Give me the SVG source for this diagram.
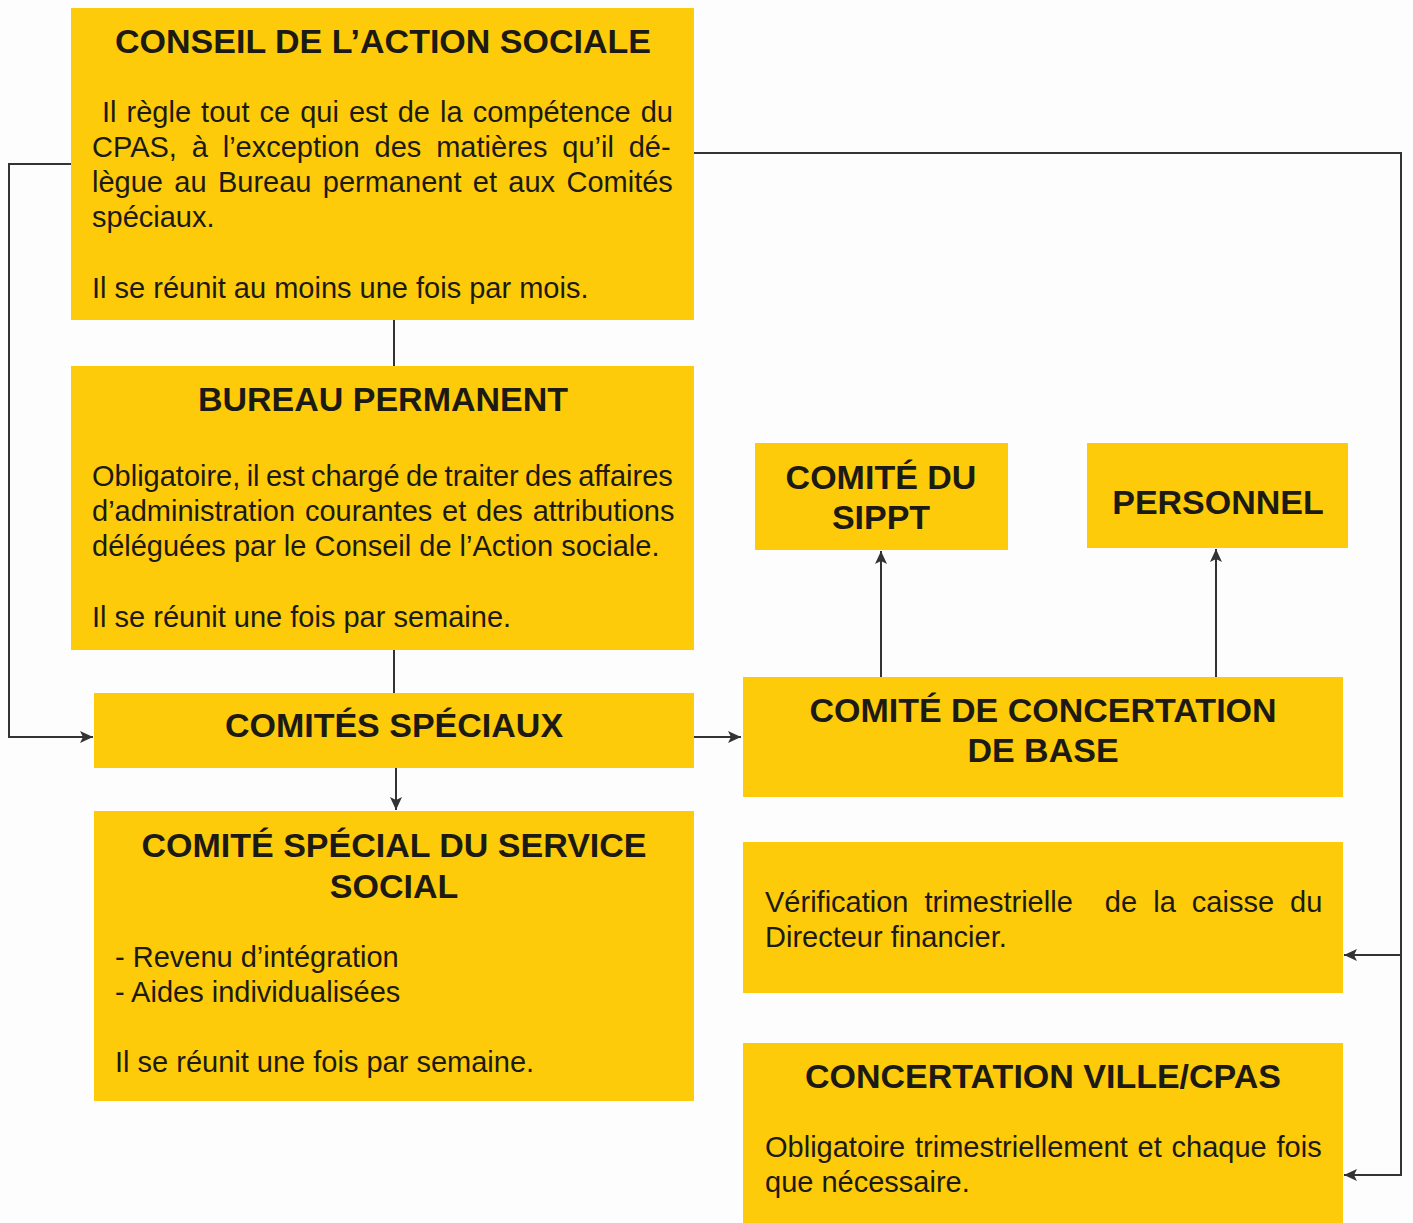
<svg xmlns="http://www.w3.org/2000/svg" width="1413" height="1223" viewBox="0 0 1413 1223">
<style>
.box{fill:#FDCB0A}
.t{font-family:"Liberation Sans",Arial,sans-serif;font-weight:bold;font-size:34px;fill:#1c1a14;text-anchor:middle}
.b{font-family:"Liberation Sans",Arial,sans-serif;font-size:29px;fill:#1c1a14}
.c{fill:none;stroke:#333;stroke-width:2}
</style>
<defs>
<marker id="ah" markerUnits="userSpaceOnUse" markerWidth="14" markerHeight="12" refX="13" refY="6" orient="auto">
<path d="M0,0 L13,6 L0,12 L3,6 z" fill="#333"/>
</marker>
</defs>
<rect width="1413" height="1223" fill="#fdfdfd"/>
<g id="connectors">
<path class="c" d="M394,320 V366"/>
<path class="c" d="M394,650 V693"/>
<path class="c" d="M71,164 H9 V737 H93" marker-end="url(#ah)"/>
<path class="c" d="M694,737 H741" marker-end="url(#ah)"/>
<path class="c" d="M396,768 V810" marker-end="url(#ah)"/>
<path class="c" d="M881,677 V551" marker-end="url(#ah)"/>
<path class="c" d="M1216,677 V549" marker-end="url(#ah)"/>
<path class="c" d="M694,153 H1401 V1175 H1344" marker-end="url(#ah)"/>
<path class="c" d="M1401,955 H1344" marker-end="url(#ah)"/>
</g>
<g id="conseil">
<rect class="box" x="71" y="8" width="623" height="312"/>
<text class="t" x="383" y="53">CONSEIL DE L’ACTION SOCIALE</text>
<text class="b" x="102" y="122" word-spacing="2">Il règle tout ce qui est de la compétence du</text>
<text class="b" x="92" y="157" word-spacing="6.8">CPAS, à l’exception des matières qu’il dé-</text>
<text class="b" x="92" y="192" word-spacing="3.3">lègue au Bureau permanent et aux Comités</text>
<text class="b" x="92" y="227">spéciaux.</text>
<text class="b" x="92" y="298">Il se réunit au moins une fois par mois.</text>
</g>
<g id="bureau">
<rect class="box" x="71" y="366" width="623" height="284"/>
<text class="t" x="383" y="411">BUREAU PERMANENT</text>
<text class="b" x="92" y="486" word-spacing="-1.7">Obligatoire, il est chargé de traiter des affaires</text>
<text class="b" x="92" y="521" word-spacing="1.75">d’administration courantes et des attributions</text>
<text class="b" x="92" y="556">déléguées par le Conseil de l’Action sociale.</text>
<text class="b" x="92" y="627">Il se réunit une fois par semaine.</text>
</g>
<g id="comites-speciaux">
<rect class="box" x="94" y="693" width="600" height="75"/>
<text class="t" x="394" y="737">COMITÉS SPÉCIAUX</text>
</g>
<g id="comite-service-social">
<rect class="box" x="94" y="811" width="600" height="290"/>
<text class="t" x="394" y="857">COMITÉ SPÉCIAL DU SERVICE</text>
<text class="t" x="394" y="898">SOCIAL</text>
<text class="b" x="115" y="967">- Revenu d’intégration</text>
<text class="b" x="115" y="1002">- Aides individualisées</text>
<text class="b" x="115" y="1072">Il se réunit une fois par semaine.</text>
</g>
<g id="sippt">
<rect class="box" x="755" y="443" width="253" height="107"/>
<text class="t" x="881" y="489">COMITÉ DU</text>
<text class="t" x="881" y="529">SIPPT</text>
</g>
<g id="personnel">
<rect class="box" x="1087" y="443" width="261" height="105"/>
<text class="t" x="1218" y="514">PERSONNEL</text>
</g>
<g id="concertation-base">
<rect class="box" x="743" y="677" width="600" height="120"/>
<text class="t" x="1043" y="722">COMITÉ DE CONCERTATION</text>
<text class="t" x="1043" y="762">DE BASE</text>
</g>
<g id="verification">
<rect class="box" x="743" y="842" width="600" height="151"/>
<text class="b" x="765" y="912" word-spacing="8" xml:space="preserve">Vérification trimestrielle  de la caisse du</text>
<text class="b" x="765" y="947">Directeur financier.</text>
</g>
<g id="concertation-ville">
<rect class="box" x="743" y="1043" width="600" height="180"/>
<text class="t" x="1043" y="1088">CONCERTATION VILLE/CPAS</text>
<text class="b" x="765" y="1157" word-spacing="1.75">Obligatoire trimestriellement et chaque fois</text>
<text class="b" x="765" y="1192">que nécessaire.</text>
</g>
</svg>
